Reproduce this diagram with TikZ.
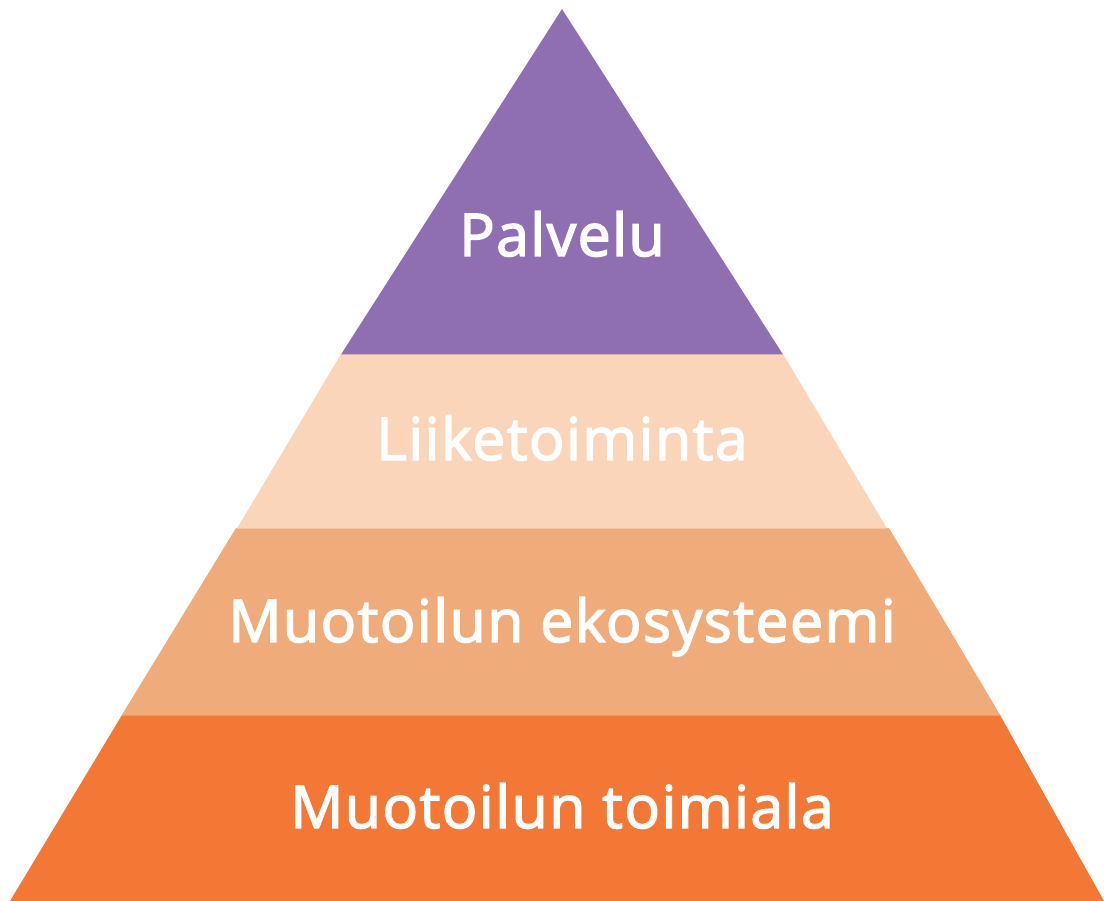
\documentclass[tikz,border=0pt]{standalone}
\usepackage{fontspec}
\setmainfont{Open Sans}[FakeBold=2.5,LetterSpace=2.4]
\definecolor{cpurple}{HTML}{8F6FB1}
\definecolor{cpeach}{HTML}{FBD5BA}
\definecolor{clight}{HTML}{EFAC7A}
\definecolor{corange}{HTML}{F37735}
\begin{document}
\begin{tikzpicture}[x=1pt,y=-1pt,
  layer/.style={draw=none},
  lbl/.style={text=white,font=\fontsize{59}{61}\selectfont,inner sep=0pt,anchor=base}]
\useasboundingbox (0,0) rectangle (1104,901);
\fill[layer,fill=corange] (122,715) -- (1000,715) -- (1104,901) -- (10,901) -- cycle;
\fill[layer,fill=clight] (236,528) -- (889,528) -- (1000.5,715.5) -- (121.5,715.5) -- cycle;
\fill[layer,fill=cpeach] (341,354) -- (783,354) -- (887,528.5) -- (237,528.5) -- cycle;
\fill[layer,fill=cpurple] (562,9) -- (783,354.5) -- (341,354.5) -- cycle;
\node[lbl] (palvelu) at (562,256) {Palvelu};
\node[lbl] (liike) at (562,460) {Liiketoiminta};
\node[lbl] (eko) at (562,642) {Muotoilun ekosysteemi};
\node[lbl] (toimiala) at (562,828) {Muotoilun toimiala};
\end{tikzpicture}
\end{document}
